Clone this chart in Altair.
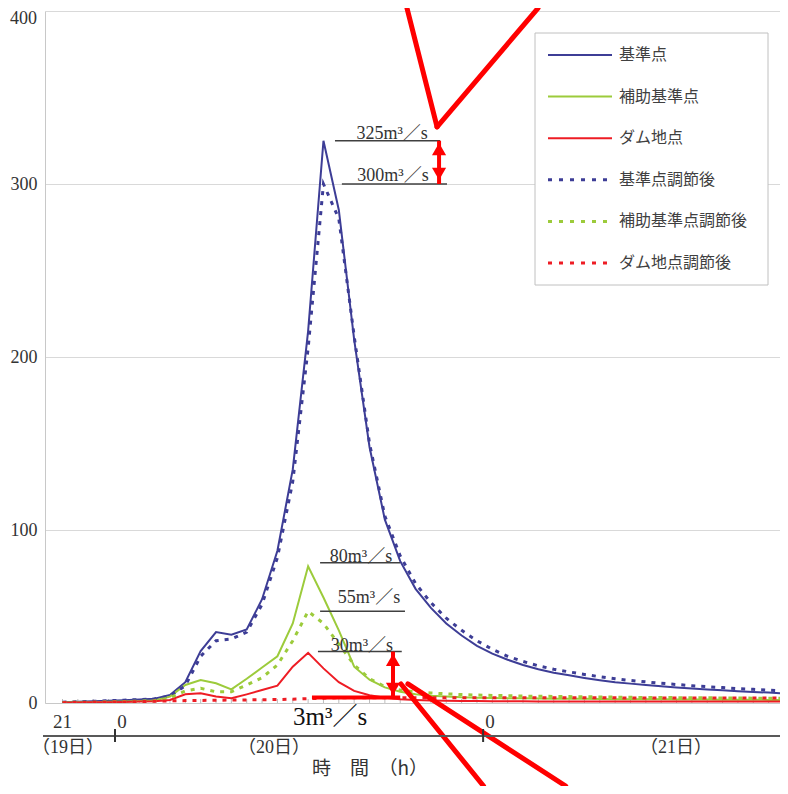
import altair as alt
import pandas as pd

# ---------------- data (hours since 21:00 on the 19th) ----------------
hours = list(range(48))
kijun = [0.5, 0.7, 1.0, 1.3, 1.6, 2.0, 2.5,
         4.6, 12, 30, 41, 39.5, 42.5, 60, 88, 135, 215,
         325, 285, 210, 148, 106, 82, 66, 55, 46, 39,
         33, 28.5, 25, 22, 19.5, 17.5, 16, 14.5, 13.2, 12,
         11.2, 10.4, 9.7, 9, 8.4, 7.8, 7.3, 6.8, 6.4, 6, 5.6]
hojo = [0.3, 0.4, 0.5, 0.7, 0.9, 1.1, 1.5,
        3.7, 10.4, 13.3, 11.4, 7.9, 14, 20.5, 27, 46, 79,
        61, 42, 21, 13.5, 9, 6.5, 5, 4.2, 3.7, 3.3,
        3.1, 2.9, 2.8, 2.7, 2.6, 2.5, 2.4, 2.4, 2.3, 2.2,
        2.2, 2.1, 2.1, 2.0, 2.0, 2.0, 1.9, 1.9, 1.9, 1.8, 1.8]
dam = [0.2, 0.3, 0.4, 0.5, 0.6, 0.8, 1.0,
       1.7, 5, 5.6, 3.7, 2.7, 5, 7.5, 10, 21, 29,
       20, 12, 7, 4.5, 3, 2.2, 1.8, 1.5, 1.3, 1.2,
       1.1, 1.0, 1.0, 1.0, 0.9, 0.9, 0.9, 0.9, 0.9, 0.8,
       0.8, 0.8, 0.8, 0.8, 0.8, 0.8, 0.8, 0.8, 0.8, 0.8, 0.8]
kijun_adj = [0.5, 0.7, 1.0, 1.3, 1.6, 2.0, 2.4,
             4.0, 10, 27, 36, 37, 41, 57, 84, 128, 205,
             300, 280, 212, 150, 108, 85, 69, 58, 49, 42,
             36, 31, 27, 24, 21.5, 19.5, 18, 16.5, 15.2, 14,
             13, 12.2, 11.4, 10.7, 10, 9.4, 8.9, 8.3, 7.9, 7.4, 7]
hojo_adj = [0.3, 0.4, 0.5, 0.7, 0.9, 1.1, 1.4,
            3, 7, 8.5, 6.5, 6.5, 10.4, 14.6, 22, 36, 53,
            46, 34, 22, 14, 9.5, 7.5, 6.5, 5.8, 5.3, 4.9,
            4.6, 4.4, 4.2, 4.0, 3.9, 3.8, 3.7, 3.6, 3.5, 3.4,
            3.3, 3.2, 3.2, 3.1, 3.0, 3.0, 2.9, 2.9, 2.8, 2.8, 2.7]
dam_adj = [0.2, 0.3, 0.4, 0.5, 0.6, 0.8, 1.0,
           1.2, 1.4, 1.5, 1.6, 1.7, 1.8, 1.9, 2.0, 2.2, 2.5,
           2.8, 3.0, 3.0, 3.0, 3.0, 3.0, 3.0, 3.0, 3.0, 3.0,
           3.0, 3.0, 3.0, 3.0, 3.0, 3.0, 3.0, 3.0, 3.0, 3.0,
           2.9, 2.9, 2.9, 2.9, 2.9, 2.9, 2.9, 2.9, 2.9, 2.9, 2.9]

series_names = ["基準点", "補助基準点", "ダム地点", "基準点調節後", "補助基準点調節後", "ダム地点調節後"]
series_values = [kijun, hojo, dam, kijun_adj, hojo_adj, dam_adj]
series_colors = ["#3d3d96", "#9ccb3b", "#ee1c24", "#3d3d96", "#9ccb3b", "#ee1c24"]
series_dotted = [False, False, False, True, True, True]

y_ticks = [0, 100, 200, 300, 400]
y_top_label = "400"

# annotation values (chart units)
peak_labels = ["325m³／s", "300m³／s", "80m³／s", "55m³／s", "30m³／s"]
peak_line_v = [325, 300, 81, 53, 29.7]
peak_line_h1 = [17.75, 18.2, 16.78, 16.78, 16.64]
peak_line_h2 = [24.6, 25.05, 22.0, 22.31, 22.1]
peak_text_h = [21.47, 21.53, 19.45, 19.97, 19.5]
peak_text_v = [326, 301.7, 81.5, 57.8, 30]
low_label = "3m³／s"
low_line = [16.25, 22.0, 3.2]          # h1, h2, v
arrow1 = [24.53, 325, 300, 320.2, 305.8]  # h, v top, v bottom, head top, head bottom
arrow2 = [21.53, 29.7, 3.2, 24.9, 8.1]

callout_h1 = [22.44, 24.4, 22.05, 22.5]
callout_v1 = [401.7, 333, 11, 11]
callout_h2 = [24.4, 30.98, 27.43, 32.78]
callout_v2 = [333, 401.7, -48, -48]

hour_labels = ["21", "0", "0"]
hour_label_h = [0, 3.88, 27.85]
day_ticks = [3.42, 27.4]
day_labels = ["（19日）", "（20日）", "（21日）"]
day_label_h = [0.36, 13.78, 39.97]
x_title = "時　間　（h）"

# ---------------- styling / layout ----------------
SERIF = "Liberation Serif, DejaVu Serif, Noto Sans CJK JP"
JP = "Noto Sans CJK JP, Noto Sans"
W, H = 735, 692
X0, X1 = -1.14, 46.74

X = alt.X("h:Q", scale=alt.Scale(domain=[X0, X1], nice=False, zero=False),
          axis=alt.Axis(title=None, labels=False, ticks=False, grid=False,
                        domainColor="#c8c8c8"))
Y = alt.Y("v:Q", scale=alt.Scale(domain=[0, 400], nice=False, zero=False),
          axis=alt.Axis(title=None, values=y_ticks, ticks=False, grid=True,
                        gridColor="#d9d9d9", domainColor="#c8c8c8",
                        labelFont=SERIF, labelFontSize=18, labelColor="#333333",
                        labelPadding=8,
                        labelExpr="datum.value == 400 ? '' : datum.label"))

layers = []

# hour ticks along the bottom of the plot
layers.append(
    alt.Chart(pd.DataFrame({"h": hours[:-1]})).mark_rule(color="#bdbdbd").encode(
        x=X, y=alt.value(H - 4), y2=alt.value(H))
)

# series lines: solid first, dotted on top
for name, vals, col, dotted in zip(series_names, series_values, series_colors, series_dotted):
    df = pd.DataFrame({"h": hours, "v": vals})
    if dotted:
        mk = alt.Chart(df).mark_line(color=col, strokeWidth=3, strokeDash=[4, 6], clip=True)
    else:
        mk = alt.Chart(df).mark_line(color=col, strokeWidth=2, clip=True)
    layers.append(mk.encode(x=X, y=Y))

one = pd.DataFrame({"a": [0]})

# top y label kept inside the page
layers.append(alt.Chart(one).mark_text(text=y_top_label, font=SERIF, fontSize=18, color="#333333",
                                       align="right", baseline="middle")
              .encode(x=alt.value(-8), y=alt.value(8)))

# peak annotation lines and labels
peak_df = pd.DataFrame({"h": peak_line_h1, "h2": peak_line_h2, "v": peak_line_v})
layers.append(alt.Chart(peak_df).mark_rule(color="#404040", strokeWidth=1.5).encode(
    x=X, x2=alt.X2("h2:Q"), y=Y))
ptxt = pd.DataFrame({"h": peak_text_h, "v": peak_text_v, "t": peak_labels})
layers.append(alt.Chart(ptxt).mark_text(font=SERIF, fontSize=18, color="#333333",
                                        baseline="alphabetic", align="center").encode(
    x=X, y=Y, text="t:N"))

# 3 m3/s line and label
layers.append(alt.Chart(pd.DataFrame({"h": [low_line[0]], "h2": [low_line[1]], "v": [low_line[2]]}))
              .mark_rule(color="#ff0000", strokeWidth=4).encode(x=X, x2=alt.X2("h2:Q"), y=Y))
layers.append(alt.Chart(pd.DataFrame({"h": [17.43], "t": [low_label]}))
              .mark_text(font=SERIF, fontSize=25, color="#111111", baseline="middle", align="center")
              .encode(x=X, y=alt.value(706), text="t:N"))

# red double arrows
for a in (arrow1, arrow2):
    layers.append(alt.Chart(pd.DataFrame({"h": [a[0]], "v": [a[1]], "v2": [a[2]]}))
                  .mark_rule(color="#ff0000", strokeWidth=4).encode(x=X, y=Y, y2=alt.Y2("v2:Q")))
    layers.append(alt.Chart(pd.DataFrame({"h": [a[0]], "v": [a[3]]}))
                  .mark_point(shape="triangle-up", filled=True, color="#ff0000", size=200, opacity=1)
                  .encode(x=X, y=Y))
    layers.append(alt.Chart(pd.DataFrame({"h": [a[0]], "v": [a[4]]}))
                  .mark_point(shape="triangle-down", filled=True, color="#ff0000", size=200, opacity=1)
                  .encode(x=X, y=Y))

# callout lines
cdf = pd.DataFrame({"h": callout_h1, "v": callout_v1, "h2": callout_h2, "v2": callout_v2})
layers.append(alt.Chart(cdf).mark_rule(color="#ff0000", strokeWidth=5, strokeCap="round").encode(
    x=X, y=Y, x2=alt.X2("h2:Q"), y2=alt.Y2("v2:Q")))

# secondary (date) axis below the plot
layers.append(alt.Chart(one).mark_rule(color="#595959", strokeWidth=2).encode(
    x=alt.value(-2), x2=alt.value(W), y=alt.value(725)))
layers.append(alt.Chart(pd.DataFrame({"h": day_ticks})).mark_rule(color="#333333", strokeWidth=2).encode(
    x=X, y=alt.value(718), y2=alt.value(731)))
layers.append(alt.Chart(pd.DataFrame({"h": hour_label_h, "t": hour_labels}))
              .mark_text(font=SERIF, fontSize=19, color="#333333", baseline="middle", align="center")
              .encode(x=X, y=alt.value(711), text="t:N"))
layers.append(alt.Chart(pd.DataFrame({"h": day_label_h, "t": day_labels}))
              .mark_text(font=SERIF, fontSize=18, color="#333333", baseline="middle", align="center")
              .encode(x=X, y=alt.value(737), text="t:N"))
layers.append(alt.Chart(one).mark_text(text=x_title, font=JP, fontSize=19, color="#333333",
                                       baseline="middle", align="left")
              .encode(x=alt.value(267), y=alt.value(758)))

# legend (manual)
layers.append(alt.Chart(one).mark_rect(fill="white", stroke="#c0c0c0", strokeWidth=1).encode(
    x=alt.value(490), x2=alt.value(723), y=alt.value(22), y2=alt.value(274)))
for k, (name, col, dotted) in enumerate(zip(series_names, series_colors, series_dotted)):
    yy = 44 + 41.6 * k
    if dotted:
        r = alt.Chart(one).mark_rule(color=col, strokeWidth=3, strokeDash=[4, 7])
    else:
        r = alt.Chart(one).mark_rule(color=col, strokeWidth=2)
    layers.append(r.encode(x=alt.value(503), x2=alt.value(567), y=alt.value(yy)))
    layers.append(alt.Chart(one).mark_text(text=name, font=JP, fontSize=16, color="#404040",
                                           align="left", baseline="middle")
                  .encode(x=alt.value(574), y=alt.value(yy)))

chart = alt.layer(*layers).properties(
    width=W, height=H,
    padding={"left": 37, "top": 3, "right": 0, "bottom": 83},
    autosize=alt.AutoSizeParams(type="none"),
).configure_view(stroke=None)

chart.save("out.html", embed_options={"renderer": "svg", "actions": False})
